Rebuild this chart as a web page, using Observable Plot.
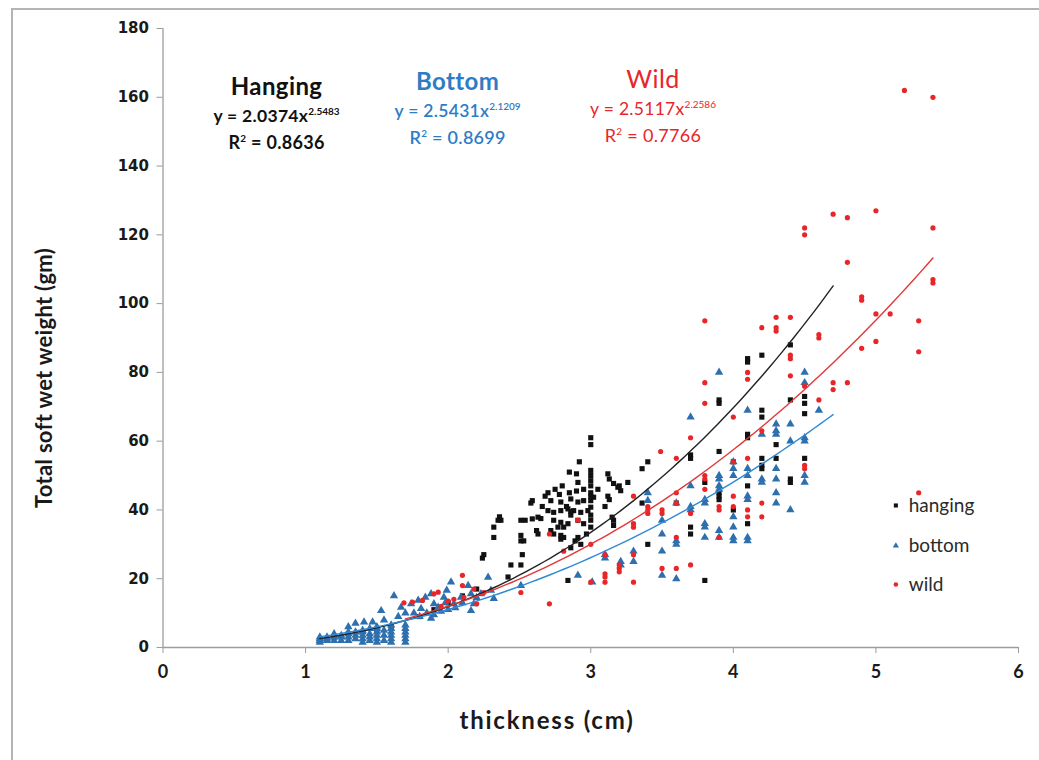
<!DOCTYPE html>
<html>
<head>
<meta charset="utf-8">
<script src="https://cdn.jsdelivr.net/npm/d3@7"></script>
<script src="https://cdn.jsdelivr.net/npm/@observablehq/plot@0.6"></script>
<style>
  html, body { margin: 0; padding: 0; background: #fff; overflow: hidden; }
  #wrap { position: relative; width: 1039px; height: 760px; }
  #frame { position: absolute; left: 11px; top: 8px; width: 1100px; height: 800px; border: 2px solid #b4b4b4; box-sizing: border-box; }
  #chart { position: absolute; left: 0; top: 0; }
</style>
</head>
<body>
<div id="wrap"><div id="frame"></div><div id="chart"></div></div>
<script>
// ---- data (thickness cm, total soft wet weight gm) ----
const hanging = [
  [1.2,3],[1.3,4],[1.5,5],[1.6,6],[1.8,9],[1.9,11],[2.0,13],[2.1,15],[2.2,17],
  [2.24,26],[2.25,27],[2.32,35],[2.32,32],[2.35,37],[2.37,37],[2.36,38],[2.42,20.5],[2.44,24],[2.51,24],[2.52,27],
  [2.51,31],[2.53,31],[2.51,32.6],[2.51,37],[2.54,37],[2.58,42],[2.59,42.7],[2.59,37.4],[2.63,37.9],[2.65,37.5],[2.63,33],[2.62,34],
  [2.7,39.8],[2.74,39.3],[2.79,39.8],[2.84,40.3],[2.88,39.8],[2.93,39.3],[2.98,39.8],
  [2.72,42.7],[2.79,42.3],[2.86,43.2],[2.91,42.3],[2.95,42.7],
  [2.74,37],[2.79,36.4],[2.84,36],[2.91,37],[2.95,36],[3.0,37],
  [2.72,34],[2.77,35],[2.81,35],[2.74,33],[2.79,32.6],[2.79,31.5],[2.81,32],[2.91,32],[2.89,31],
  [2.86,38.5],[2.86,39.5],[3.0,42.7],[3.0,40.8],[3.02,43.7],
  [2.7,45],[2.75,46],[2.8,47],[2.85,45],[2.68,44],[2.78,44.5],[2.83,41],[2.9,45.5],[2.95,46],[2.66,41],
  [3.0,61],[3.0,59],[2.92,54],[2.85,51],[2.9,50.5],[3.0,51.5],[3.0,50],[3.0,48.5],[3.0,47],[2.91,48],[3.0,45],[3.0,44],
  [3.0,38.5],[3.0,35],[2.97,33],[2.93,30],[2.86,29],[2.84,19.5],
  [3.12,50.5],[3.13,49],[3.16,47.7],[3.19,46.6],[3.21,45.6],[3.26,48],[3.12,44],[3.13,43],[3.15,37.9],[3.16,37],[3.16,35.5],
  [3.2,47],[3.36,52],[3.4,54],[3.36,42],[3.4,30],[3.1,41],[3.05,46],
  [3.7,56],[3.7,55],[3.7,35],[3.7,33],[3.8,19.5],[3.9,72],[3.9,71],[3.9,57],[3.9,45],[3.9,44],[3.9,43],
  [4.1,84],[4.1,83],[4.1,62],[4.1,61],[4.1,47],[4.1,36],[4.2,85],[4.2,69],[4.2,67],[4.2,55],[4.2,53],[4.2,52],
  [4.3,59],[4.3,55],[4.4,88],[4.4,72],[4.4,49],[4.4,48],[4.5,73],[4.5,71],[4.5,68],[4.5,55],[4.0,54],[3.8,48],[3.6,42],[4.0,40]
];
const bottom = [
  [1.1,1.5],[1.1,2],[1.1,2.5],[1.1,3],[1.15,2],[1.15,2.5],[1.15,3],[1.2,2],[1.2,3],[1.2,3.5],[1.2,4],
  [1.25,2],[1.25,3],[1.25,3.5],[1.3,2],[1.3,3],[1.3,4],[1.3,4.5],[1.35,2.5],[1.35,3.5],[1.35,4.5],
  [1.4,1.5],[1.4,2.5],[1.4,3.5],[1.4,4.5],[1.4,5],[1.45,2],[1.45,3],[1.45,4],[1.45,5.5],
  [1.5,1.5],[1.5,2.5],[1.5,3.5],[1.5,4.5],[1.5,5.5],[1.5,6],[1.55,2],[1.55,3.5],[1.55,5],
  [1.6,1.5],[1.6,2.5],[1.6,3.5],[1.6,4.5],[1.6,5.5],[1.6,6.5],[1.7,1.5],[1.7,2.5],[1.7,3.5],[1.7,4.5],[1.7,5.5],[1.7,6.5],
  [1.41,7.4],[1.47,7.4],[1.53,10.7],[1.62,15],[1.67,11.7],[1.74,12.7],[1.79,13.7],[1.81,11.3],[1.84,14.6],[1.88,15.6],
  [1.9,12.7],[1.93,11.7],[1.97,14.6],[1.99,16.6],[2.02,19],[2.04,12.7],[2.09,14.6],[2.14,18],[2.16,15.6],[2.18,12.7],
  [2.23,15.6],[2.28,20.4],[2.3,16.6],[2.32,14.2],[1.8,9],[1.85,10],[1.9,9.5],[1.95,10.5],[2.0,11],[2.05,11.5],
  [1.88,8.5],[1.98,13],[2.1,13],[2.16,10.7],[2.2,14.5],[1.76,10],[1.3,6],[1.35,7],[1.55,8],[1.65,9],[1.7,10],
  [2.51,18],[2.91,21],[3.01,19],[3.1,27],[3.1,26],[3.21,25],[3.21,24],[3.3,28],[3.3,25],[3.4,42.7],[3.4,45],
  [3.5,37],[3.5,28],[3.5,21],[3.5,33],[3.6,31],[3.6,30],[3.6,20],[3.6,42],[3.7,67],[3.7,41],[3.7,40],[3.7,47],
  [3.8,43],[3.8,42],[3.8,36],[3.8,35],[3.8,32],[3.9,80],[3.9,50],[3.9,49],[3.9,47],[3.9,46],[3.9,34],[3.9,32],
  [4.0,54],[4.0,52],[4.0,50],[4.0,38],[4.0,35],[4.0,32],[4.0,31],[4.1,69],[4.1,52],[4.1,50],[4.1,44],[4.1,43],[4.1,32],[4.1,31],
  [4.2,62],[4.2,49],[4.2,48],[4.3,65],[4.3,63],[4.3,62],[4.3,52],[4.3,49],[4.3,45],[4.3,42],[4.4,65],[4.4,60],[4.4,40],
  [4.5,80],[4.5,77],[4.5,61],[4.5,60],[4.5,50],[4.5,48],[4.6,69]
];
const wild = [
  [1.69,13],[1.75,13.2],[1.82,13.7],[1.9,15.6],[1.93,16.1],[2.04,14],[2.1,21],[2.11,14.6],[2.18,17],[2.2,12.7],[2.1,18],
  [1.95,12],[2.25,16],[2.0,13.5],
  [2.51,16],[2.71,12.7],[2.71,33],[2.81,28],[2.91,37],[3.0,30],[3.0,19],[3.1,27],[3.1,19],[3.1,21.4],[3.1,20.5],
  [3.2,23],[3.2,22],[3.2,24],[3.3,44],[3.3,36],[3.3,35],[3.3,27],[3.3,19],[3.4,41],[3.4,39],[3.4,40],[3.49,57],
  [3.5,40],[3.5,39],[3.5,23],[3.6,55],[3.6,45],[3.6,42],[3.6,32],[3.6,23],[3.7,61],[3.7,39],[3.7,24],
  [3.8,95],[3.8,77],[3.8,71],[3.8,50],[3.8,49],[3.8,46],[3.9,41],[3.9,40],[3.9,32],[4.0,67],[4.0,54],[4.0,44],[4.0,41],
  [4.1,80],[4.1,78],[4.1,55],[4.1,40],[4.1,38],[4.2,93],[4.2,63],[4.2,42],[4.2,38],[4.3,96],[4.3,93],[4.3,92],
  [4.4,96],[4.4,85],[4.4,84],[4.4,79],[4.5,122],[4.5,120],[4.5,76],[4.5,53],[4.5,52],[4.6,91],[4.6,90],[4.6,72],
  [4.7,126],[4.7,77],[4.7,75],[4.8,125],[4.8,112],[4.8,77],[4.9,102],[4.9,101],[4.9,87],[5.0,127],[5.0,97],[5.0,89],
  [5.1,97],[5.2,162],[5.3,95],[5.3,86],[5.3,45],[5.4,160],[5.4,122],[5.4,107],[5.4,106]
];
// power trendlines y = a x^b (from the chart's equations) and their x-range
const seriesNames = ["hanging", "bottom", "wild"];
const fitA = [2.0374, 2.5431, 2.5117];
const fitB = [2.5483, 2.1209, 2.2586];
const fitR2 = ["0.8636", "0.8699", "0.7766"];
const fitRange = [[1.1, 4.7], [1.1, 4.7], [1.7, 5.4]];
const titles = ["Hanging", "Bottom", "Wild"];
const xTicks = [0, 1, 2, 3, 4, 5, 6];
const yTicks = [0, 20, 40, 60, 80, 100, 120, 140, 160, 180];

const colors = ["#111111", "#2e6fae", "#e8262a"];
const textColors = ["#111111", "#2e7cc4", "#e8262a"];
const lineColors = ["#222222", "#2f8ad6", "#e33636"];
const symbols = ["square", "triangle", "circle"];

const toRows = (arr, s) => arr.map(([x, y]) => ({x, y, s}));
const rows = [...toRows(hanging, "hanging"), ...toRows(bottom, "bottom"), ...toRows(wild, "wild")];

function curve(i) {
  const [lo, hi] = fitRange[i];
  const n = 80, out = [];
  for (let k = 0; k <= n; k++) {
    const x = lo + (hi - lo) * k / n;
    out.push({x, y: fitA[i] * Math.pow(x, fitB[i])});
  }
  return out;
}

const legendRows = seriesNames.map((s, i) => ({s, i, x: 5.14, y: [41.3, 29.6, 18.3][i]}));

const marks = [
  Plot.ruleY([0], {stroke: "#9c9c9c", strokeWidth: 1.3}),
  Plot.ruleX([0], {stroke: "#9c9c9c", strokeWidth: 1.3}),
  Plot.axisX({ticks: xTicks, tickSize: 6, tickPadding: 12, stroke: "#9c9c9c", fill: "#1a1a1a",
    fontSize: 18, fontWeight: "bold", fontFamily: "Lato", label: null, tickFormat: d => String(d)}),
  Plot.axisY({ticks: yTicks, tickSize: 6, tickPadding: 8, stroke: "#9c9c9c", fill: "#1a1a1a",
    fontSize: 15, fontWeight: "bold", fontFamily: "DejaVu Sans", label: null, tickFormat: d => String(d)})
];
const dotR = [2.9, 3.1, 2.6];
seriesNames.forEach((s, i) => {
  marks.push(Plot.dot(rows.filter(d => d.s === s), {x: "x", y: "y", symbol: () => symbols[i],
    r: dotR[i], fill: colors[i], stroke: "none"}));
});
seriesNames.forEach((s, i) => {
  marks.push(Plot.line(curve(i), {x: "x", y: "y", stroke: lineColors[i], strokeWidth: 1.4}));
});
seriesNames.forEach((s, i) => {
  marks.push(Plot.dot([legendRows[i]], {x: "x", y: "y", symbol: () => symbols[i], r: 2.3, fill: colors[i], stroke: "none"}));
  marks.push(Plot.text([legendRows[i]], {x: d => d.x + 0.09, y: "y", text: "s", textAnchor: "start",
    fontSize: 19, fontFamily: "Lato", fill: "#2a2a2a"}));
});

const chart = Plot.plot({
  width: 1039, height: 760,
  marginLeft: 162.5, marginRight: 21, marginTop: 28, marginBottom: 113,
  x: {domain: [0, 6]},
  y: {domain: [0, 180]},
  symbol: {type: "identity"},
  style: {background: "transparent", overflow: "visible"},
  marks
});
document.getElementById("chart").appendChild(chart);

// annotations and axis titles
const svg = d3.select(chart);
const sx = chart.scale("x"), sy = chart.scale("y");
svg.append("text").attr("transform", "translate(52,378) rotate(-90)")
  .attr("text-anchor", "middle").attr("font-family", "Lato").attr("font-weight", "bold")
  .attr("font-size", 22).attr("letter-spacing", 0.3).attr("fill", "#1a1a1a").text("Total soft wet weight (gm)");
svg.append("text").attr("x", 547).attr("y", 729)
  .attr("text-anchor", "middle").attr("font-family", "Lato").attr("font-weight", "bold")
  .attr("font-size", 24).attr("letter-spacing", 1.8).attr("fill", "#1a1a1a").text("thickness (cm)");

const annX = [0.80, 2.07, 3.44];
const annY = [160.5, 162, 162.5];
const titleWeight = ["bold", "bold", "normal"];
const eqWeight = ["bold", "600", "normal"];
const titleSize = [24, 24, 25];
titles.forEach((t, i) => {
  const cx = sx.apply(annX[i]), ty = sy.apply(annY[i]);
  const col = textColors[i];
  svg.append("text").attr("x", cx).attr("y", ty).attr("text-anchor", "middle")
    .attr("font-family", "Lato").attr("font-weight", titleWeight[i]).attr("font-size", titleSize[i])
    .attr("letter-spacing", 0.4).attr("fill", col).text(t);
  const eq = svg.append("text").attr("x", cx).attr("y", ty + 27).attr("text-anchor", "middle")
    .attr("font-family", "Lato").attr("font-weight", eqWeight[i]).attr("font-size", 17.5)
    .attr("letter-spacing", 0.3).attr("fill", col);
  eq.append("tspan").text(`y = ${fitA[i].toFixed(4)}x`);
  eq.append("tspan").attr("font-size", 10).attr("dy", -7).attr("letter-spacing", 0).text(fitB[i].toFixed(4));
  const r = svg.append("text").attr("x", cx).attr("y", ty + 54).attr("text-anchor", "middle")
    .attr("font-family", "Lato").attr("font-weight", eqWeight[i]).attr("font-size", 18)
    .attr("letter-spacing", 0.3).attr("fill", col);
  r.append("tspan").text("R");
  r.append("tspan").attr("font-size", 10).attr("dy", -7).text("2");
  r.append("tspan").attr("dy", 7).text(` = ${fitR2[i]}`);
});
</script>
</body>
</html>
